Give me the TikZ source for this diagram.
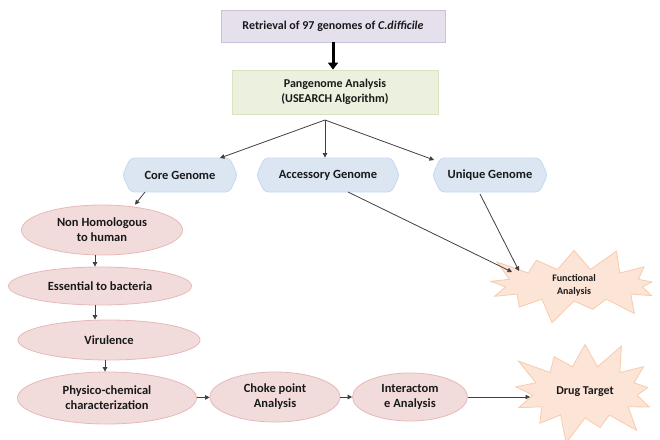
\documentclass[tikz,border=0pt]{standalone}
\usepackage{fontspec}
\setmainfont{Carlito}
\usetikzlibrary{shapes.geometric,shapes.symbols,arrows.meta}
\definecolor{purfill}{HTML}{E5E0EC}
\definecolor{purdraw}{HTML}{CCC1DA}
\definecolor{grnfill}{HTML}{EBF1DE}
\definecolor{grndraw}{HTML}{D7E4BD}
\definecolor{blufill}{HTML}{DCE6F2}
\definecolor{bludraw}{HTML}{C6D9F1}
\definecolor{pnkfill}{HTML}{F2DCDB}
\definecolor{pnkdraw}{HTML}{E6B9B8}
\definecolor{orgfill}{HTML}{FCE4D6}
\definecolor{orgdraw}{HTML}{F8CBAD}
\definecolor{arrcol}{HTML}{404040}
\tikzset{
  lbl/.style={font=\bfseries\fontsize{12}{15}\selectfont, text=black!90, align=center},
  topbox/.style={lbl, rectangle, fill=purfill, draw=purdraw, line width=0.8pt, minimum width=224pt, minimum height=32pt, inner sep=0pt},
  grnbox/.style={lbl, rectangle, fill=grnfill, draw=grndraw, line width=0.8pt, minimum width=206pt, minimum height=44pt, inner sep=0pt},
  genome/.style={lbl, signal, signal to=west and east, signal pointer angle=130, fill=blufill, draw=bludraw, line width=0.8pt, rounded corners=4pt, minimum height=34pt, inner sep=0pt, font=\bfseries\fontsize{12.5}{15}\selectfont},
  ell/.style={lbl, ellipse, fill=pnkfill, draw=pnkdraw, line width=0.8pt, inner sep=0pt, font=\bfseries\fontsize{12.5}{15}\selectfont},
  burst/.style={lbl, starburst, fill=orgfill, draw=orgdraw, line width=0.8pt, inner sep=0pt},
  arr/.style={draw=arrcol, line width=0.8pt, -{Triangle[length=4.5pt,width=4.5pt]}},
}
\begin{document}
\begin{tikzpicture}[x=1pt,y=-1pt]
\useasboundingbox[fill=white] (0,0) rectangle (660,439);
\node[topbox] (ret) at (333,26) {Retrieval of 97 genomes of \textit{C.difficile}};
\node[grnbox] (pan) at (335,92) {Pangenome Analysis\\(USEARCH Algorithm)};
\draw[line width=3pt, -{Triangle[length=7pt,width=10pt]}] (ret.south -| 333,0) -- (pan.north -| 333,0);
\node[genome, minimum width=115pt] (core) at (180,175) {Core Genome};
\node[genome, minimum width=143pt] (acc) at (328,175) {Accessory Genome};
\node[genome, minimum width=115pt] (uni) at (490,175) {Unique Genome};
\coordinate (ps) at (325,120);
\draw[arr] (ps) -- (220,158);
\draw[arr] (ps) -- (acc.north -| 325,0);
\draw[arr] (ps) -- (434,160);
\node[ell, minimum width=161pt, minimum height=50pt] (nh) at (102,230) {Non Homologous\\to human};
\node[ell, minimum width=183pt, minimum height=38pt] (ess) at (100,286) {Essential to bacteria};
\node[ell, minimum width=182pt, minimum height=40pt] (vir) at (109,340) {Virulence};
\node[ell, minimum width=179pt, minimum height=52pt] (phy) at (107,398) {Physico-chemical\\characterization};
\node[ell, minimum width=130pt, minimum height=50pt] (cho) at (275,397) {Choke point\\Analysis};
\node[ell, minimum width=115pt, minimum height=48pt] (int) at (410,397) {Interactom\\e Analysis};
\node[burst, minimum width=190pt, minimum height=84pt, starburst points=13, starburst point height=26pt, font=\bfseries\fontsize{10}{13}\selectfont] (fun) at (574,285) {Functional\\Analysis};
\node[burst, minimum width=165pt, minimum height=112pt, starburst points=13, starburst point height=30pt, font=\bfseries\fontsize{12}{15}\selectfont] (drug) at (585,392) {Drug Target};
\coordinate (cs) at (145,192);
\draw[arr] (cs) -- (nh.north -| 135,0);
\draw[arr] (nh.south -| 95,0) -- (ess.north -| 95,0);
\draw[arr] (ess.south -| 95,0) -- (vir.north -| 95,0);
\draw[arr] (vir.south -| 105,0) -- (phy.north -| 105,0);
\draw[arr] (phy) -- (cho);
\draw[arr] (cho) -- (int);
\draw[arr] (int.east) -- (530,397);
\coordinate (as) at (348,192);
\coordinate (us) at (480,194);
\coordinate (f1) at (512,272);
\coordinate (f2) at (519,271);
\draw[arr] (as) -- (f1);
\draw[arr] (us) -- (f2);
\end{tikzpicture}
\end{document}
